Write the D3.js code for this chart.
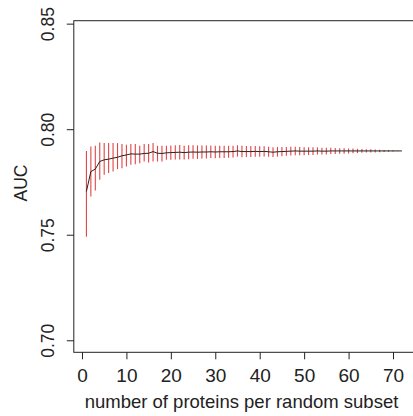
<!DOCTYPE html>
<html><head><meta charset="utf-8">
<script src="https://cdn.jsdelivr.net/npm/d3@7"></script>
<style>body{margin:0;background:#fff}svg{display:block}text{font-family:"Liberation Sans",Arial,sans-serif;fill:#222}</style>
</head><body>
<script>
const subsetSize = d3.range(1, 73);
const meanAUC = [0.7705,0.7799,0.7811,0.7847,0.7855,0.7858,0.7863,0.7867,0.7874,0.7878,
0.7883,0.7882,0.7882,0.7885,0.7886,0.7894,0.7886,0.7885,0.7888,0.7889,
0.7890,0.7891,0.7889,0.7891,0.7892,0.7891,0.7892,0.7892,0.7893,0.7892,
0.7893,0.7893,0.7893,0.7894,0.7897,0.7894,0.7894,0.7894,0.7895,0.7894,
0.7895,0.7893,0.7891,0.7893,0.7894,0.7895,0.7896,0.7897,0.7896,0.7896,
0.7896,0.7896,0.7897,0.7896,0.7896,0.7897,0.7897,0.7897,0.7897,0.7897,
0.7897,0.7897,0.7897,0.7897,0.7897,0.7897,0.7897,0.7897,0.7897,0.7897,0.7897,0.7897];
const lowAUC = [0.7491,0.7681,0.7709,0.7760,0.7784,0.7792,0.7800,0.7811,0.7815,0.7823,
0.7831,0.7834,0.7839,0.7847,0.7842,0.7847,0.7847,0.7847,0.7855,0.7855,
0.7856,0.7857,0.7856,0.7858,0.7860,0.7859,0.7861,0.7861,0.7863,0.7862,
0.7864,0.7864,0.7865,0.7866,0.7870,0.7867,0.7868,0.7868,0.7870,0.7869,
0.7871,0.7869,0.7868,0.7870,0.7872,0.7874,0.7875,0.7877,0.7876,0.7877,
0.7878,0.7878,0.7880,0.7880,0.7880,0.7882,0.7883,0.7884,0.7884,0.7885,
0.7886,0.7887,0.7888,0.7889,0.7889,0.7890,0.7891,0.7892,0.7893,0.7894,0.7895,0.7897];
const highAUC = [0.7897,0.7918,0.7921,0.7937,0.7934,0.7934,0.7934,0.7934,0.7930,0.7926,
0.7930,0.7930,0.7921,0.7930,0.7930,0.7934,0.7921,0.7921,0.7921,0.7923,
0.7924,0.7925,0.7922,0.7924,0.7924,0.7923,0.7923,0.7923,0.7923,0.7922,
0.7922,0.7922,0.7921,0.7922,0.7924,0.7921,0.7920,0.7920,0.7920,0.7919,
0.7919,0.7917,0.7914,0.7916,0.7916,0.7916,0.7917,0.7917,0.7916,0.7915,
0.7914,0.7914,0.7914,0.7912,0.7912,0.7912,0.7911,0.7910,0.7910,0.7909,
0.7908,0.7907,0.7906,0.7905,0.7905,0.7904,0.7903,0.7902,0.7901,0.7900,0.7899,0.7897];
const xTicks = [0,10,20,30,40,50,60,70];
const yTicks = [0.70,0.75,0.80,0.85];
const xTitle = "number of proteins per random subset";
const yTitle = "AUC";

const W = 413, H = 416;
const FONT = "Liberation Sans, Arial, sans-serif";
const svg = d3.select("body").append("svg").attr("width", W).attr("height", H);
const x = d3.scaleLinear().domain([-1.84, 74.84]).range([73.8, 414.5]);
const y = d3.scaleLinear().domain([0.6943, 0.8514]).range([352.3, 20.7]);

// box
svg.append("rect").attr("x", x.range()[0]).attr("y", y.range()[1])
  .attr("width", x.range()[1]-x.range()[0]).attr("height", y.range()[0]-y.range()[1])
  .attr("fill", "none").attr("stroke", "#222").attr("stroke-width", 1);

// error bars
svg.append("g").selectAll("line").data(subsetSize).join("line")
  .attr("x1", (d) => x(d)).attr("x2", (d) => x(d))
  .attr("y1", (d, i) => y(lowAUC[i])).attr("y2", (d, i) => y(highAUC[i]))
  .attr("stroke", "#e04444").attr("stroke-width", 1.1);

// mean line
svg.append("path").datum(subsetSize)
  .attr("d", d3.line().x((d) => x(d)).y((d, i) => y(meanAUC[i])))
  .attr("fill", "none").attr("stroke", "#222").attr("stroke-width", 1);

// axes
const xAxis = svg.append("g").attr("transform", `translate(0,${y.range()[0]})`)
  .call(d3.axisBottom(x).tickValues(xTicks).tickSize(7).tickPadding(9).tickFormat(d3.format("d")));
xAxis.select(".domain").remove();
xAxis.selectAll("text").attr("font-size", 19).style("font-family", FONT).attr("fill", "#222");
xAxis.selectAll("line").attr("stroke", "#222");

const yAxis = svg.append("g").attr("transform", `translate(${x.range()[0]},0)`)
  .call(d3.axisLeft(y).tickValues(yTicks).tickSize(7).tickFormat(d3.format(".2f")));
yAxis.select(".domain").remove();
yAxis.selectAll("line").attr("stroke", "#222");
yAxis.selectAll("text")
  .attr("font-size", 17.5).attr("fill", "#222").style("font-family", FONT)
  .attr("x", null)
  .attr("text-anchor", "middle")
  .attr("transform", "translate(-25.5,0) rotate(-90)")
  .attr("dy", "0.35em");

svg.append("text").attr("x", 241.5).attr("y", 408)
  .attr("text-anchor", "middle").attr("font-size", 18.5).text(xTitle);
svg.append("text").attr("transform", "translate(26.5,183) rotate(-90)")
  .attr("text-anchor", "middle").attr("font-size", 17.5).text(yTitle);
</script>
</body></html>
